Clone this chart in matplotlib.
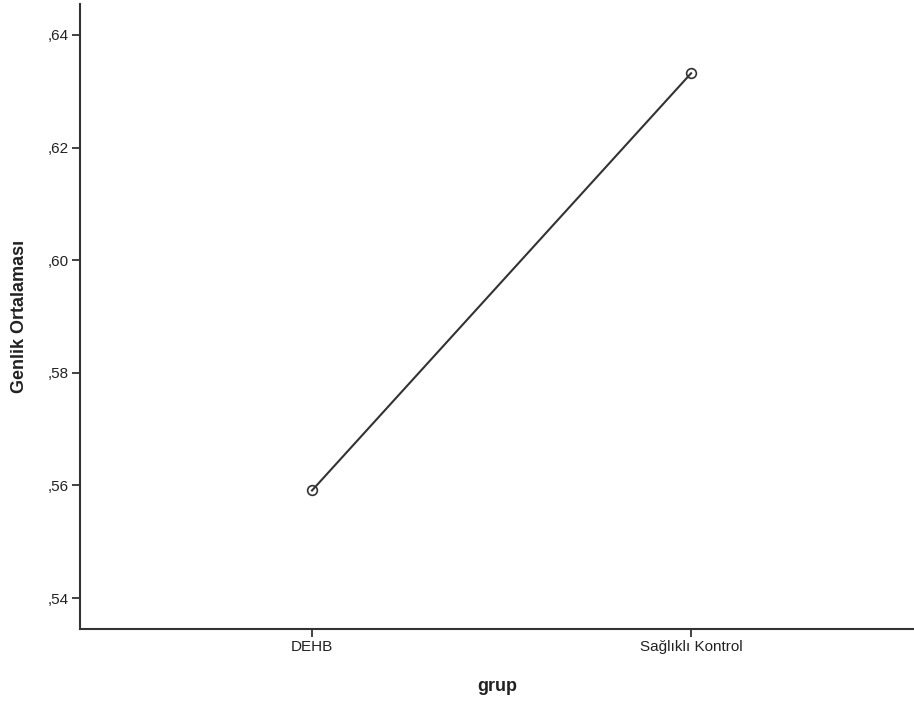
import numpy as np
import matplotlib.pyplot as plt
from matplotlib.ticker import FuncFormatter

plt.rcParams['font.family'] = ['Liberation Sans', 'DejaVu Sans']

groups = ['DEHB', 'Sağlıklı Kontrol']
means = [0.5591, 0.6332]
yticks = [0.54, 0.56, 0.58, 0.60, 0.62, 0.64]

fig = plt.figure(figsize=(9.14, 7.02), dpi=100)
ax = fig.add_axes([80/914, 73/702, 834/914, 625/702])

x = np.arange(len(groups))
ax.plot(x, means, color='#333333', lw=1.5, marker='o', markersize=7,
        markerfacecolor='none', markeredgecolor='#333333', markeredgewidth=1.2)

ax.set_xlim(-0.612, 1.588)
ax.set_ylim(0.5345, 0.6455)
ax.set_xticks(x)
ax.set_xticklabels(groups)
ax.set_yticks(yticks)
# SPSS style decimals: ,64
ax.yaxis.set_major_formatter(FuncFormatter(lambda v, p: ('%.2f' % v)[1:].replace('.', ',')))

for s in ['top', 'right']:
    ax.spines[s].set_visible(False)
for s in ['left', 'bottom']:
    ax.spines[s].set_color('#333333')
    ax.spines[s].set_linewidth(1.5)

ax.tick_params(axis='both', length=6, width=1.3, color='#333333',
               labelsize=11, labelcolor='#222222', pad=2)

ax.set_xlabel('grup', fontsize=13, fontweight='bold', color='#222222', labelpad=17)
ax.set_ylabel('Genlik Ortalaması', fontsize=13, fontweight='bold', color='#222222', labelpad=14)

plt.savefig('out.png', dpi=100)
